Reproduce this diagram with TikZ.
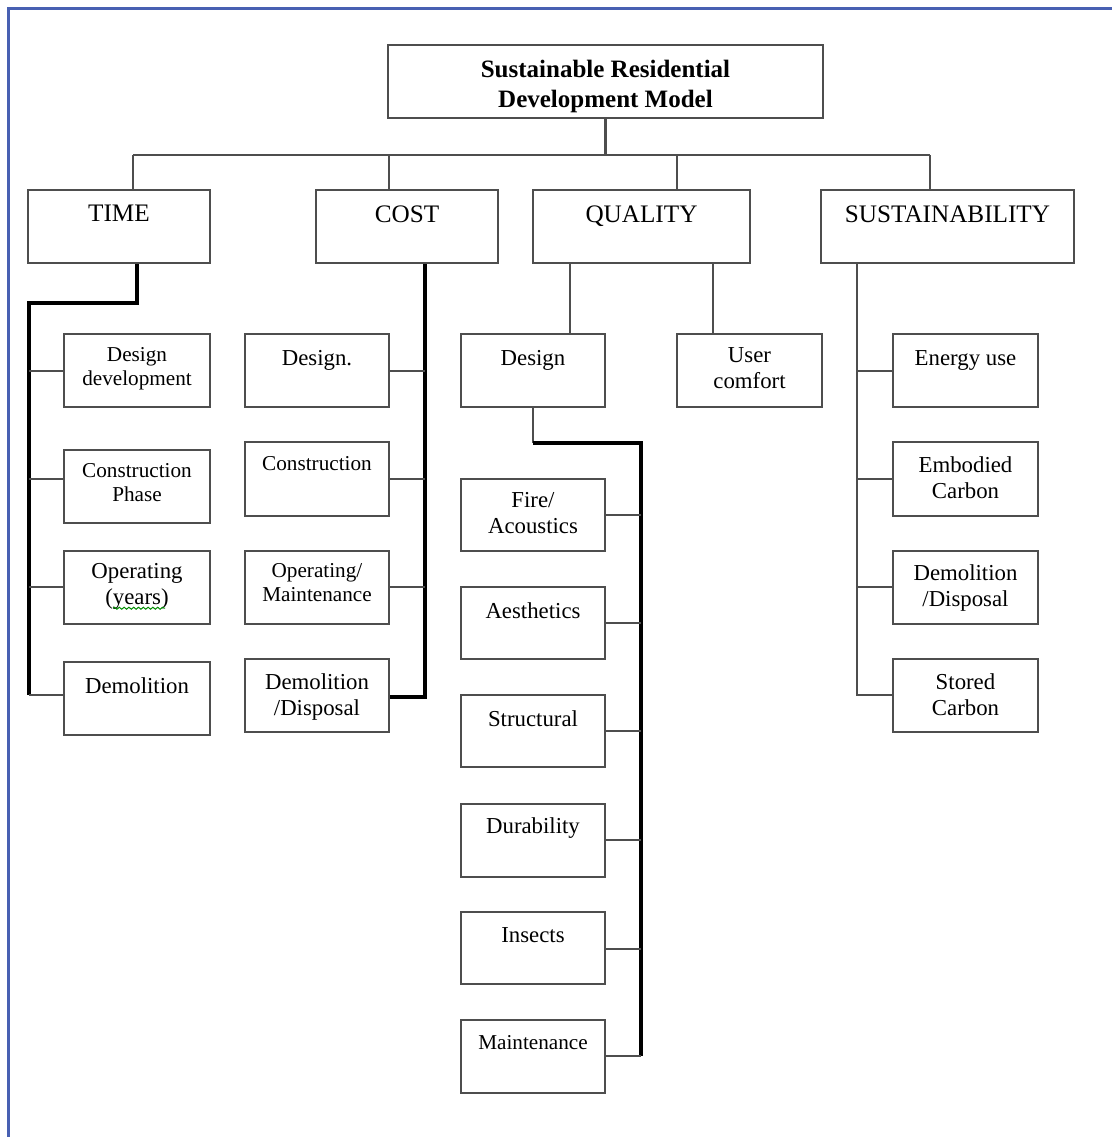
\documentclass[tikz,border=0pt]{standalone}
\usepackage{fontspec}
\setmainfont{Liberation Serif}
\usetikzlibrary{fit,decorations.pathmorphing}
\definecolor{framecol}{RGB}{72,96,178}
\definecolor{linegray}{RGB}{78,78,78}
\tikzset{
  box/.style={draw=linegray, line width=1.35pt, inner sep=0pt, rectangle},
  conn/.style={draw=linegray, line width=1.35pt},
  spine/.style={draw=black, line width=1.9pt, line join=miter},
  toplab/.style={font=\bfseries\fontsize{12.5}{15}\selectfont, align=center, anchor=north, inner sep=0pt},
  catlab/.style={font=\fontsize{12.6}{15}\selectfont, anchor=north, inner sep=0pt},
  itemlab/.style={font=\fontsize{11.4}{13.2}\selectfont, align=center, anchor=north, inner sep=0pt},
  smalllab/.style={font=\fontsize{10.6}{11.8}\selectfont, align=center, anchor=north, inner sep=0pt},
}
\begin{document}
\begin{tikzpicture}[x=0.5pt,y=-0.5pt]
\useasboundingbox (0,0) rectangle (1112,1137);
\fill[white] (0,0) rectangle (1112,1137);
% outer frame
\draw[framecol, line width=1.5pt] (8,1145) -- (8,8) -- (1120,8);

% root
\node[box, fit={(388,45)(823,118)}] (root) {};
\node[toplab] (rootT) at (root.north |- 0,60) {Sustainable Residential\\Development Model};

% categories
\node[box, fit={(28,190)(210,263)}] (time) {};
\node[box, fit={(316,190)(498,263)}] (cost) {};
\node[box, fit={(533,190)(750,263)}] (quality) {};
\node[box, fit={(821,190)(1074,263)}] (sust) {};
\node[catlab] (timeT) at (time.north |- 0,205) {TIME};
\node[catlab] (costT) at (cost.north |- 0,205) {COST};
\node[catlab] (qualityT) at (quality.north |- 0,205) {QUALITY};
\node[catlab] (sustT) at (sust.north |- 0,205) {SUSTAINABILITY};

% bus from the root
\coordinate (busT) at (133,155);
\coordinate (busC) at (389,155);
\coordinate (busQ) at (677,155);
\coordinate (busS) at (930,155);
\draw[conn] (root.south) -- (root.south |- busT);
\draw[conn] (busT) -- (busS);
\draw[conn] (busT) -- (busT |- time.north);
\draw[conn] (busC) -- (busC |- cost.north);
\draw[conn] (busQ) -- (busQ |- quality.north);
\draw[conn] (busS) -- (busS |- sust.north);

% TIME items
\node[box, fit={(64,334)(210,407)}] (t1) {};
\node[box, fit={(64,450)(210,523)}] (t2) {};
\node[box, fit={(64,551)(210,624)}] (t3) {};
\node[box, fit={(64,662)(210,735)}] (t4) {};
\node[smalllab] (t1T) at (t1.north |- 0,347) {Design\\development};
\node[smalllab] (t2T) at (t2.north |- 0,463) {Construction\\Phase};
\node[itemlab] (t3T) at (t3.north |- 0,563) {Operating\\(years)};
\node[itemlab] (t4T) at (t4.north |- 0,677) {Demolition};
\draw[green!55!black, line width=0.5pt, decorate,
      decoration={snake, amplitude=0.5pt, segment length=2.4pt}]
  (t3T.south west) ++(22,-2) -- ++(52,0);

\coordinate (tA) at (137,303);
\coordinate (tB) at (29,303);
\coordinate (tC) at (29,695);
\draw[spine] (tA |- time.south) -- (tA) -- (tB) -- (tC);
\draw[conn] (tB |- 0,371) -- (t1.west |- 0,371);
\draw[conn] (tB |- 0,479) -- (t2.west |- 0,479);
\draw[conn] (tB |- 0,587) -- (t3.west |- 0,587);
\draw[conn] (tC) -- (t4.west |- tC);

% COST items
\node[box, fit={(245,334)(389,407)}] (c1) {};
\node[box, fit={(245,442)(389,516)}] (c2) {};
\node[box, fit={(245,551)(389,624)}] (c3) {};
\node[box, fit={(245,659)(389,732)}] (c4) {};
\node[itemlab] (c1T) at (c1.north |- 0,350) {Design.};
\node[smalllab] (c2T) at (c2.north |- 0,456) {Construction};
\node[smalllab] (c3T) at (c3.north |- 0,563) {Operating/\\Maintenance};
\node[itemlab] (c4T) at (c4.north |- 0,673) {Demolition\\/Disposal};

\coordinate (cA) at (425,697);
\draw[spine] (cA |- cost.south) -- (cA) -- (c4.east |- cA);
\draw[conn] (c1.east |- 0,371) -- (cA |- 0,371);
\draw[conn] (c2.east |- 0,479) -- (cA |- 0,479);
\draw[conn] (c3.east |- 0,587) -- (cA |- 0,587);

% QUALITY items
\node[box, fit={(461,334)(605,407)}] (qd) {};
\node[box, fit={(677,334)(822,407)}] (uc) {};
\node[itemlab] (qdT) at (qd.north |- 0,350) {Design};
\node[itemlab] (ucT) at (uc.north |- 0,347) {User\\comfort};
\draw[conn] (570,0 |- quality.south) -- (570,0 |- qd.north);
\draw[conn] (713,0 |- quality.south) -- (713,0 |- uc.north);

\node[box, fit={(461,479)(605,551)}] (q1) {};
\node[box, fit={(461,587)(605,659)}] (q2) {};
\node[box, fit={(461,695)(605,767)}] (q3) {};
\node[box, fit={(461,804)(605,877)}] (q4) {};
\node[box, fit={(461,912)(605,984)}] (q5) {};
\node[box, fit={(461,1020)(605,1093)}] (q6) {};
\node[itemlab] (q1T) at (q1.north |- 0,492) {Fire/\\Acoustics};
\node[itemlab] (q2T) at (q2.north |- 0,602) {Aesthetics};
\node[itemlab] (q3T) at (q3.north |- 0,710) {Structural};
\node[itemlab] (q4T) at (q4.north |- 0,817) {Durability};
\node[itemlab] (q5T) at (q5.north |- 0,927) {Insects};
\node[smalllab] (q6T) at (q6.north |- 0,1035) {Maintenance};

\coordinate (qA) at (533,443);
\coordinate (qB) at (641,443);
\coordinate (qC) at (641,1056);
\draw[conn] (qd.south) -- (qA);
\draw[spine] (qA) -- (qB) -- (qC);
\draw[conn] (q1.east |- 0,515) -- (qB |- 0,515);
\draw[conn] (q2.east |- 0,623) -- (qB |- 0,623);
\draw[conn] (q3.east |- 0,731) -- (qB |- 0,731);
\draw[conn] (q4.east |- 0,840) -- (qB |- 0,840);
\draw[conn] (q5.east |- 0,949) -- (qB |- 0,949);
\draw[conn] (q6.east |- qC) -- (qC);

% SUSTAINABILITY items
\node[box, fit={(893,334)(1038,407)}] (s1) {};
\node[box, fit={(893,442)(1038,516)}] (s2) {};
\node[box, fit={(893,551)(1038,624)}] (s3) {};
\node[box, fit={(893,659)(1038,732)}] (s4) {};
\node[itemlab] (s1T) at (s1.north |- 0,350) {Energy use};
\node[itemlab] (s2T) at (s2.north |- 0,456) {Embodied\\Carbon};
\node[itemlab] (s3T) at (s3.north |- 0,564) {Demolition\\/Disposal};
\node[itemlab] (s4T) at (s4.north |- 0,673) {Stored\\Carbon};

\coordinate (sA) at (857,695);
\draw[conn] (sA |- sust.south) -- (sA) -- (s4.west |- sA);
\draw[conn] (sA |- 0,371) -- (s1.west |- 0,371);
\draw[conn] (sA |- 0,479) -- (s2.west |- 0,479);
\draw[conn] (sA |- 0,587) -- (s3.west |- 0,587);
\end{tikzpicture}
\end{document}
